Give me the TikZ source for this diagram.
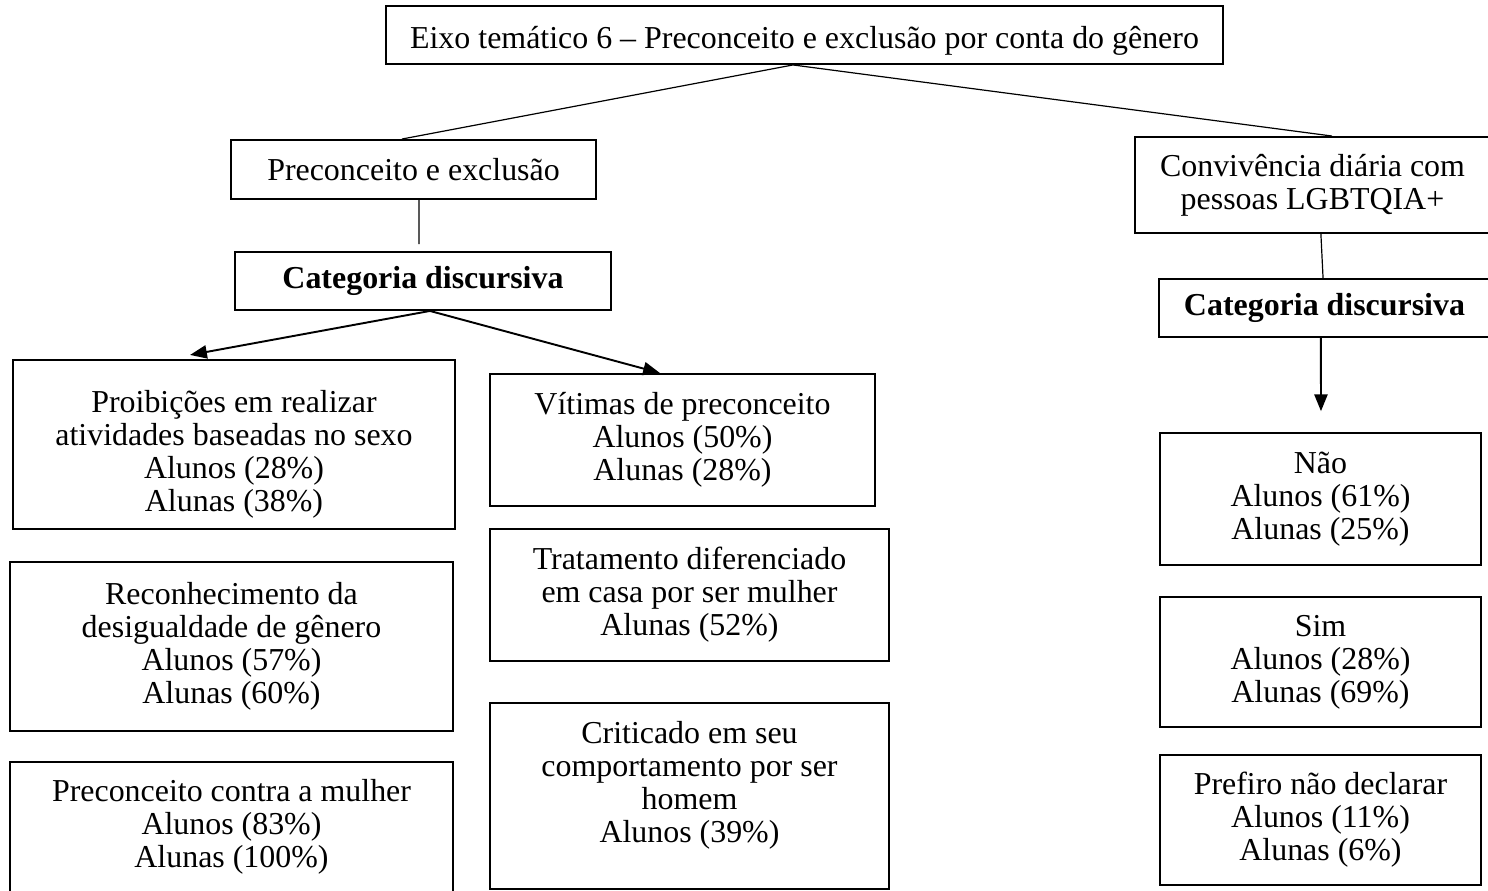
\documentclass[tikz,border=0pt]{standalone}
\usepackage{fontspec}
\setmainfont{Liberation Serif}
\usetikzlibrary{arrows.meta,positioning}

\begin{document}
\begin{tikzpicture}[x=0.4167pt,y=-0.4167pt,
        >={Triangle[length=7pt,width=5.5pt]},
        caixa/.style={draw,rectangle,line width=0.8pt,align=center,inner sep=0pt,
          font=\fontsize{13.3pt}{13.75pt}\selectfont},
        cat/.style={caixa,font=\fontsize{13.3pt}{13.75pt}\selectfont\bfseries},
        tam/.style 2 args={minimum width=#1*0.4167pt,minimum height=#2*0.4167pt},
        fino/.style={line width=0.5pt},
        seta/.style={->,line width=0.8pt}]

  \useasboundingbox (0,0) rectangle (1488,891);

  \node[caixa,tam={837}{58}] (eixo) at (804.5,35) {\rule{0pt}{14.2pt}Eixo temático 6 – Preconceito e exclusão por conta do gênero};

  \node[caixa,tam={365}{59}] (pe) at (413.5,169.5) {Preconceito e exclusão};
  \node[cat,tam={376}{58}] (catE) at (423,281) {Categoria discursiva};
  \node[caixa,tam={355}{96}] (conv) at (1312.5,185) {Convivência diária com\\pessoas LGBTQIA+};
  \node[cat,tam={331}{58}] (catD) at (1324.5,308) {Categoria discursiva};

  \node[caixa,tam={442}{169}] (proib) at (234,444.5) {\rule{0pt}{17.5pt}Proibições em realizar\\atividades baseadas no sexo\\Alunos (28\%)\\Alunas (38\%)};
  \node[caixa,tam={443}{169}] (reco) at (231.5,646.5) {Reconhecimento da\\desigualdade de gênero\\Alunos (57\%)\\Alunas (60\%)};
  \node[caixa,tam={443}{140}] (contra) at (231.5,832) {Preconceito contra a mulher\\Alunos (83\%)\\Alunas (100\%)\rule[-7pt]{0pt}{0pt}};

  \node[caixa,tam={385}{132}] (vit) at (682.5,440) {Vítimas de preconceito\\Alunos (50\%)\\Alunas (28\%)};
  \node[caixa,tam={399}{132}] (trat) at (689.5,595) {Tratamento diferenciado\\em casa por ser mulher\\Alunas (52\%)};
  \node[caixa,tam={399}{186}] (crit) at (689.5,796) {Criticado em seu\\comportamento por ser\\homem\\Alunos (39\%)\rule[-12pt]{0pt}{0pt}};

  \node[caixa,tam={321}{132}] (nao) at (1320.5,499) {Não\\Alunos (61\%)\\Alunas (25\%)};
  \node[caixa,tam={321}{130}] (sim) at (1320.5,662) {Sim\\Alunos (28\%)\\Alunas (69\%)};
  \node[caixa,tam={321}{130}] (pref) at (1320.5,820) {Prefiro não declarar\\Alunos (11\%)\\Alunas (6\%)};

  \draw[fino] ([xshift=-4.8pt]eixo.south) -- ([xshift=-4.8pt]pe.north);
  \draw[fino] ([xshift=-4.8pt]eixo.south) -- ([xshift=8.1pt]conv.north);
  \draw[fino] ([xshift=2.3pt]pe.south) -- ([xshift=-1.7pt,yshift=2.9pt]catE.north);
  \draw[fino] ([xshift=3.5pt]conv.south) -- ([xshift=-0.6pt]catD.north);

  \draw[seta] ([xshift=2.9pt]catE.south) -- ([xshift=-18.3pt,yshift=1.7pt]proib.north);
  \draw[seta] ([xshift=2.9pt]catE.south) -- ([xshift=-9.4pt]vit.north);
  \draw[seta] ([xshift=-1.5pt]catD.south) -- ([xshift=0.2pt,yshift=8.7pt]nao.north);

\end{tikzpicture}
\end{document}
